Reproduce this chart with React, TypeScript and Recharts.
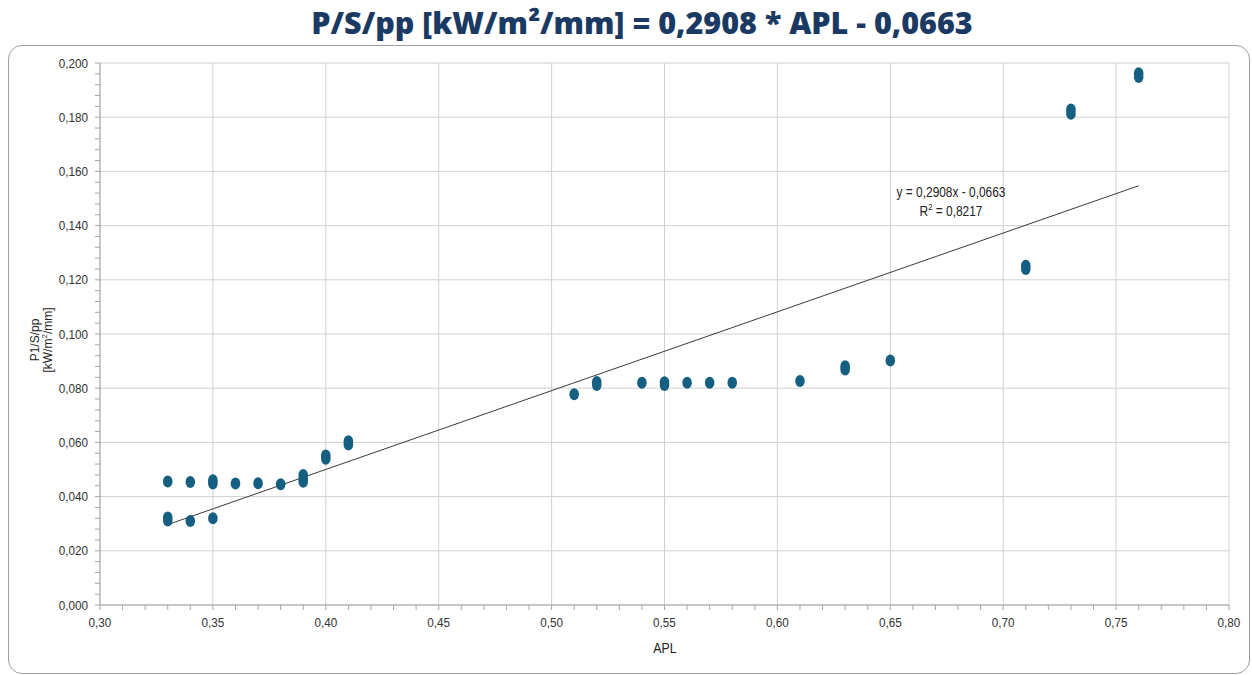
import React from 'react';
import { ScatterChart, Scatter, XAxis, YAxis, CartesianGrid, ReferenceLine } from 'recharts';

const apl = [0.33, 0.33, 0.33, 0.34, 0.34, 0.35, 0.35, 0.35, 0.36, 0.37, 0.38, 0.39, 0.39, 0.39, 0.40, 0.40, 0.41, 0.41, 0.51, 0.52, 0.52, 0.54, 0.55, 0.55, 0.56, 0.57, 0.58, 0.61, 0.63, 0.63, 0.65, 0.71, 0.71, 0.73, 0.73, 0.76, 0.76];
const ps = [0.0456, 0.0323, 0.0312, 0.0454, 0.031, 0.046, 0.0448, 0.032, 0.0448, 0.0449, 0.0446, 0.048, 0.0466, 0.0455, 0.0552, 0.054, 0.0604, 0.0592, 0.0778, 0.0823, 0.0812, 0.082, 0.0822, 0.0812, 0.082, 0.082, 0.082, 0.0827, 0.0881, 0.0869, 0.0902, 0.1252, 0.1240, 0.1828, 0.1813, 0.1962, 0.1948];

const xMajor = [0.3, 0.35, 0.4, 0.45, 0.5, 0.55, 0.6, 0.65, 0.7, 0.75, 0.8];
const yMajor = [0, 0.02, 0.04, 0.06, 0.08, 0.1, 0.12, 0.14, 0.16, 0.18, 0.2];
const xMinor = [0.3, 0.31, 0.32, 0.33, 0.34, 0.35, 0.36, 0.37, 0.38, 0.39, 0.4, 0.41, 0.42, 0.43, 0.44, 0.45, 0.46, 0.47, 0.48, 0.49, 0.5, 0.51, 0.52, 0.53, 0.54, 0.55, 0.56, 0.57, 0.58, 0.59, 0.6, 0.61, 0.62, 0.63, 0.64, 0.65, 0.66, 0.67, 0.68, 0.69, 0.7, 0.71, 0.72, 0.73, 0.74, 0.75, 0.76, 0.77, 0.78, 0.79, 0.8];
const yMinor = [0, 0.004, 0.008, 0.012, 0.016, 0.02, 0.024, 0.028, 0.032, 0.036, 0.04, 0.044, 0.048, 0.052, 0.056, 0.06, 0.064, 0.068, 0.072, 0.076, 0.08, 0.084, 0.088, 0.092, 0.096, 0.1, 0.104, 0.108, 0.112, 0.116, 0.12, 0.124, 0.128, 0.132, 0.136, 0.14, 0.144, 0.148, 0.152, 0.156, 0.16, 0.164, 0.168, 0.172, 0.176, 0.18, 0.184, 0.188, 0.192, 0.196, 0.2];

const slope = 0.2908;
const intercept = -0.0663;
const trendX = [0.33, 0.76];

const points = apl.map((x, i) => ({ x, y: ps[i] }));

const FONT = '"Liberation Sans", Arial, sans-serif';
const DOT = '#155f82';

const isMajor = (v: number, list: number[]) => list.some((m) => Math.abs(m - v) < 1e-6);

const XTick = (props: any) => {
  const { x, y, payload } = props;
  const major = isMajor(payload.value, xMajor);
  return (
    <g>
      <line x1={x} x2={x} y1={y - 8} y2={y - 3} stroke="#a6a6a6" />
      {major && (
        <text transform={`translate(${x},${y + 14}) scale(0.9,1)`} textAnchor="middle" fontFamily={FONT} fontSize={13} fill="#333">
          {payload.value.toFixed(2).replace('.', ',')}
        </text>
      )}
    </g>
  );
};

const YTick = (props: any) => {
  const { x, y, payload } = props;
  const major = isMajor(payload.value, yMajor);
  return (
    <g>
      <line x1={x + 3} x2={x + 8} y1={y} y2={y} stroke="#a6a6a6" />
      {major && (
        <text transform={`translate(${x - 4},${y + 4.5}) scale(0.9,1)`} textAnchor="end" fontFamily={FONT} fontSize={13} fill="#333">
          {payload.value.toFixed(3).replace('.', ',')}
        </text>
      )}
    </g>
  );
};

const Dot = (props: any) => {
  const { cx, cy } = props;
  return <ellipse cx={cx} cy={cy} rx={4.8} ry={6} fill={DOT} />;
};

export default function App() {
  return (
    <div style={{ position: 'absolute', left: 0, top: 0, width: 1252, height: 675, background: '#fff', overflow: 'hidden' }}>
      <div
        style={{
          position: 'absolute', left: 0, top: 1, width: 1284, textAlign: 'center',
          fontFamily: '"Open Sans", sans-serif', fontWeight: 800, fontSize: 30.5, color: '#1b3a63', letterSpacing: 0,
        }}
      >
        P/S/pp [kW/m²/mm] = 0,2908 * APL - 0,0663
      </div>
      <div
        style={{
          position: 'absolute', left: 8, top: 45, width: 1242, height: 629, boxSizing: 'border-box',
          border: '1px solid #a0a0a0', borderRadius: 14,
        }}
      />
      <div style={{ position: 'absolute', left: 0, top: 0 }}>
        <ScatterChart width={1252} height={675} margin={{ top: 63, right: 23, bottom: 40, left: 40 }}>
          <CartesianGrid
            stroke="#d0d0d0"
            horizontalValues={yMajor}
            verticalValues={xMajor}
          />
          <XAxis
            type="number"
            dataKey="x"
            domain={[0.3, 0.8]}
            ticks={xMinor}
            interval={0}
            tick={<XTick />}
            tickLine={false}
            axisLine={{ stroke: '#a6a6a6' }}
            height={30}
            allowDataOverflow
          />
          <YAxis
            type="number"
            dataKey="y"
            domain={[0, 0.2]}
            ticks={yMinor}
            interval={0}
            tick={<YTick />}
            tickLine={false}
            axisLine={{ stroke: '#a6a6a6' }}
            width={60}
            allowDataOverflow
          />
          <ReferenceLine
            segment={[
              { x: trendX[0], y: slope * trendX[0] + intercept },
              { x: trendX[1], y: slope * trendX[1] + intercept },
            ]}
            stroke="#3a3a3a"
            strokeWidth={1}
            ifOverflow="visible"
          />
          <Scatter data={points} shape={<Dot />} isAnimationActive={false} />
        </ScatterChart>
      </div>
      <div style={{ position: 'absolute', left: 851, top: 183, width: 200, textAlign: 'center', fontFamily: FONT, fontSize: 14, color: '#222', lineHeight: '19px', transform: 'scaleX(0.85)' }}>
        <div>y = 0,2908x - 0,0663</div>
        <div>R<sup style={{ fontSize: 9, verticalAlign: 6, lineHeight: 0 }}>2</sup> = 0,8217</div>
      </div>
      <div style={{ position: 'absolute', left: 651, top: 640, width: 28, textAlign: 'center', fontFamily: FONT, fontSize: 14, color: '#222', transform: 'scaleX(0.88)' }}>APL</div>
      <div
        style={{
          position: 'absolute', left: 42, top: 340, width: 0, height: 0,
        }}
      >
        <div
          style={{
            position: 'absolute', left: 0, top: 0, transform: 'translate(-50%, -50%) rotate(-90deg)', whiteSpace: 'nowrap',
            textAlign: 'center', fontFamily: FONT, fontSize: 12, color: '#222',
          }}
        >
          <div style={{ height: 13, lineHeight: '13px' }}>P1/S/pp</div>
          <div style={{ height: 13, lineHeight: '13px' }}>[kW/m<sup style={{ fontSize: 8, verticalAlign: 5, lineHeight: 0 }}>2</sup>/mm]</div>
        </div>
      </div>
    </div>
  );
}
